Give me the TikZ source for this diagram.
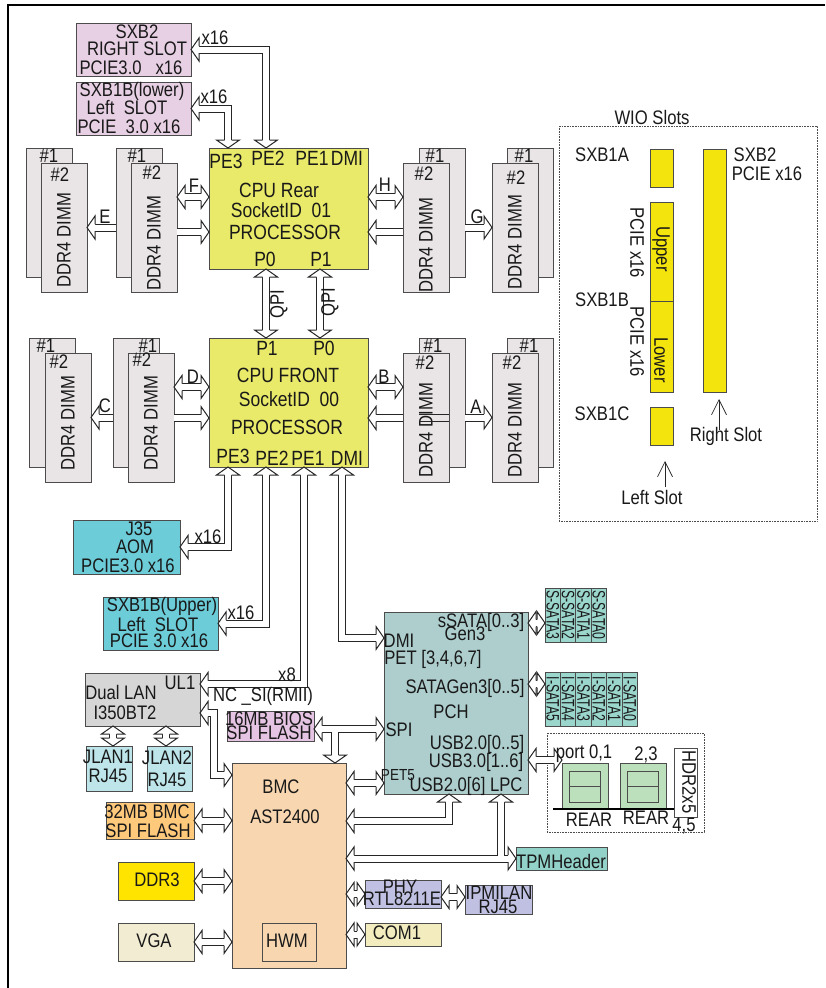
\documentclass[tikz,border=0pt]{standalone}
\usepackage{fontspec}
\setmainfont[FakeStretch=0.85]{Liberation Sans}
\newfontfamily\cellfont[FakeStretch=0.68]{Liberation Sans}
\usetikzlibrary{arrows.meta}

\definecolor{pinkbox}{HTML}{E8D0E4}
\definecolor{cpuyellow}{HTML}{E9E96A}
\definecolor{dimmgray}{HTML}{E9E5E7}
\definecolor{aomblue}{HTML}{6CCCD8}
\definecolor{langray}{HTML}{D6D6D6}
\definecolor{jlanblue}{HTML}{BEE6EA}
\definecolor{biospink}{HTML}{E4C4E2}
\definecolor{bmcpeach}{HTML}{F8D7B0}
\definecolor{flashorange}{HTML}{FFC97C}
\definecolor{ddryellow}{HTML}{FFE400}
\definecolor{vgacream}{HTML}{F2ECD2}
\definecolor{pchteal}{HTML}{AECECE}
\definecolor{sataTeal}{HTML}{9BD6CC}
\definecolor{tpmteal}{HTML}{92D2C8}
\definecolor{phyblue}{HTML}{C0C0E2}
\definecolor{comcream}{HTML}{F2ECBE}
\definecolor{usbgreen}{HTML}{BCE0BC}
\definecolor{slotyellow}{HTML}{F4E40E}

% hollow head of a bus, open towards the two shaft lines
\pgfdeclarearrow{
  name=Bus,
  cache=false,
  setup code={
    \pgfarrowssettipend{8pt}
    \pgfarrowssetlineend{0.3pt}
    \pgfarrowssetbackend{0pt}
    \pgfarrowssetvisualbackend{0pt}
  },
  drawing code={
    \pgfsetinnerlinewidth{0pt}
    \pgfsetlinewidth{1pt}
    \pgfsetcolor{black!85}
    \pgfsetfillcolor{white}
    \pgfpathmoveto{\pgfqpoint{0pt}{3.5pt}}
    \pgfpathlineto{\pgfqpoint{0pt}{11.5pt}}
    \pgfpathlineto{\pgfqpoint{8pt}{0pt}}
    \pgfpathlineto{\pgfqpoint{0pt}{-11.5pt}}
    \pgfpathlineto{\pgfqpoint{0pt}{-3.5pt}}
    \pgfusepathqfillstroke
  }
}

\tikzset{
  box/.style={draw=black!70,line width=0.8pt,inner sep=0pt,outer sep=0pt},
  bus/.style={draw=black!85,double=white,double distance=6pt,line width=1pt,>=Bus},
  lbl/.style={inner sep=0pt,font=\fontsize{19.6}{19.6}\selectfont,text=black!90},
  cpulbl/.style={lbl,font=\fontsize{20.6}{20.6}\selectfont},
  smalllbl/.style={lbl,font=\fontsize{16}{16}\selectfont},
  cell/.style={box,fill=sataTeal,rotate=-90,font=\cellfont\fontsize{18}{18}\selectfont,text=black!90},
  groupbox/.style={draw=black!70,densely dotted,line width=0.6pt},
  vee/.style={draw=black!85,line width=0.7pt,-{Straight Barb[length=15pt,width=15pt]}}
}

\begin{document}
\begin{tikzpicture}[x=1pt,y=-1pt]
\useasboundingbox (0,0) rectangle (825,988);
\draw[line width=2.5pt] (8,988) -- (8,5) -- (825,5);

% dotted groups
\draw[groupbox] (559,126) rectangle (817,521);
\draw[groupbox] (547,733) rectangle (704,832);

% the boxes: name, corners, colour
\foreach \nm/\xa/\ya/\xb/\yb/\col in {
  sxbtwo/76/23/191/76/pinkbox, sxblower/76/82/191/135/pinkbox,
  cpurear/209/148/368/269/cpuyellow, cpufront/209/338/368/467/cpuyellow,
  aom/73/520/180/574/aomblue, sxbupper/103/597/218/650/aomblue,
  duallan/85/673/200/726/langray, jlanone/86/746/132/791/jlanblue, jlantwo/147/746/192/791/jlanblue,
  bios/227/711/314/741/biospink, bmc/232/763/346/968/bmcpeach, hwm/262/923/316/961/bmcpeach,
  bmcflash/106/802/194/839/flashorange, ddrthree/118/862/194/900/ddryellow, vga/118/923/194/961/vgacream,
  pch/384/612/528/794/pchteal, tpm/516/847/607/870/tpmteal,
  phy/365/880/441/908/phyblue, ipmi/465/885/532/914/phyblue, comone/365/923/441/946/comcream,
  usba/562/763/608/809/usbgreen, usbb/620/763/666/809/usbgreen,
  usbaport/569/771/600/802/usbgreen, usbbport/627/771/658/802/usbgreen,
  hdr/674/748/697/817/white,
  slota/650/149/673/187/slotyellow, slotupper/650/202/673/301/slotyellow, slotlower/650/301/673/392/slotyellow,
  slotc/650/407/673/445/slotyellow, slotright/703/149/726/392/slotyellow}
  \node[box,fill=\col,minimum width={\xb-\xa},minimum height={\yb-\ya}] (\nm) at ({(\xa+\xb)/2},{(\ya+\yb)/2}) {};
\draw[box] (usbaport.west) -- (usbaport.east);
\draw[box] (usbbport.west) -- (usbbport.east);
\draw[line width=1.5pt] (553,809) -- (hdr.west |- usba.south);

% memory: name, left of #1, left of #2, top, x of #1, x of #2, y of #2, offset of the text
\foreach \nm/\xa/\xb/\ya/\la/\lb/\ly/\dy in {
  E/26/41/148/49/60/175/77, F/116/131/148/137/152/173/80,
  H/419/403/148/435/424/174/82, G/507/492/148/524/516/178/79,
  C/29/45/338/46/59/362/70, D/113/128/338/148/142/360/70,
  B/419/403/338/433/425/363/77, A/507/492/338/529/512/363/77} {
  \node[box,fill=dimmgray,minimum width=46,minimum height=129] (\nm1) at (\xa+23,\ya+64.5) {};
  \node[lbl] (\nm one) at (\la,\ya+8) {\#1};
  \node[box,fill=dimmgray,minimum width=46,minimum height=129] (\nm2) at (\xb+23,\ya+79.5) {};
  \node[lbl] (\nm two) at (\lb,\ly) {\#2};
  \node[lbl,rotate=90] (\nm text) at (\xb+23,\ya+15+\dy) {DDR4 DIMM};
}

% SATA connectors
\foreach \t [count=\i] in {3,2,1,0}
  \node[cell,minimum width=54,minimum height=15.4] (ssata\i) at (545+15.4*\i-7.7,615) {S-SATA\t};
\foreach \t [count=\i] in {5,4,3,2,1,0}
  \node[cell,minimum width=54,minimum height=15.4] (sata\i) at (545+15.4*\i-7.7,699) {I-SATA\t};

% memory buses
\foreach \a/\b/\y in {F2.east/cpurear.west/197, cpurear.east/H2.west/197,
  D2.east/cpufront.west/387, cpufront.east/B2.west/387,
  pch.east/ssata1.south/623, pch.east/sata1.south/684, pch.east/usba.west/760}
  \draw[bus,<->] (\a |- 0,\y) -- (\b |- 0,\y);
\foreach \a/\b/\y in {F2.east/cpurear.west/232, H2.west/cpurear.east/232,
  D2.east/cpufront.west/418, B2.west/cpufront.east/418,
  F1.west/E2.east/227.5, D1.west/C2.east/417.5, H1.east/G2.west/227.5, B1.east/A2.west/417.5}
  \draw[bus,->] (\a |- 0,\y) -- (\b |- 0,\y);
\foreach \y in {414.5,421.5}
  \draw[draw=black!85,line width=1pt] (B2.east |- 0,\y) -- (B1.west |- 0,\y);

% QPI
\foreach \x in {266,320}
  \draw[bus,<->] (\x,0 |- cpurear.south) -- (\x,0 |- cpufront.north);

% PCIE
\draw[bus,<->] (266,0 |- cpurear.north) |- (sxbtwo.east);
\draw[bus,<->] (228,0 |- cpurear.north) |- (sxblower.east);
\draw[bus,<->] (228,0 |- cpufront.south) |- (aom.east);
\draw[bus,<->] (266,0 |- cpufront.south) |- (sxbupper.east);
\draw[bus,<->] (304,0 |- cpufront.south) |- (duallan.east |- 0,684);
\draw[bus,<->] (342,0 |- cpufront.south) |- (pch.west |- 0,638);

% LAN
\draw[bus,<->] (duallan.east |- 0,713) -- (214,713) |- (bmc.west |- 0,775);
\draw[bus,<->] (113,0 |- duallan.south) -- (113,0 |- jlanone.north);
\draw[bus,<->] (166,0 |- duallan.south) -- (166,0 |- jlantwo.north);

% BMC neighbours
\foreach \a in {bmcflash,ddrthree,vga}
  \draw[bus,<->] (\a.east) -- (\a.east -| bmc.west);
\foreach \a in {phy,comone}
  \draw[bus,<->] (\a.west) -- (\a.west -| bmc.east);
\draw[bus,<->] (phy.east |- 0,897) -- (ipmi.west |- 0,897);
\draw[bus,<->] (bmc.east |- 0,783) -- (pch.west |- 0,783);
\draw[bus,<->] (bmc.east |- 0,821) -| (449,0 |- pch.south);

% SPI, one branch goes down to the BMC
\coordinate (spijoin) at (335,729);
\draw[bus,->] (spijoin) -- (spijoin |- bmc.north);
\draw[bus,<->] (bios.east |- spijoin) -- (pch.west |- spijoin);
\draw[white,line width=6pt] (335,728) -- (335,737);

% LPC and TPM
\coordinate (tpmjoin) at (501,858.5);
\draw[bus,->] (tpmjoin) -- (tpmjoin |- pch.south);
\draw[bus,<->] (bmc.east |- tpmjoin) -- (tpm.west |- tpmjoin);
\draw[white,line width=6pt] (501,858) -- (501,849);

% pointers to the slots
\coordinate (rightpoint) at (719,399);
\coordinate (rightfoot) at (719,430);
\coordinate (leftpoint) at (665,461);
\coordinate (leftfoot) at (665,487);
\draw[vee] (rightfoot) -- (rightpoint);
\draw[vee] (leftfoot) -- (leftpoint);

% all the texts
\foreach \x/\y/\t [count=\i] in {
  137/32/SXB2, 137/49/RIGHT SLOT, 131/68/PCIE3.0\ \ \ x16,
  132/91/SXB1B(lower), 127/108/Left\ \ SLOT, 129/127/PCIE\ \ 3.0\ x16,
  215/38/x16, 214/97/x16, 208/537/x16, 241/613/x16, 287/675/x8,
  139/529/J35, 135/547/AOM, 128/566/PCIE3.0 x16,
  162/606/SXB1B(Upper), 158/624/Left\ \ SLOT, 159/641/PCIE 3.0 x16,
  194/186/F, 105/217/E, 385/185/H, 477/217/G, 193/377/D, 105/406/C, 384/377/B, 476/407/A,
  180/683/UL1, 121/692/Dual LAN, 125/713/I350BT2,
  108/757/JLAN1, 108/776/RJ45, 167/758/JLAN2, 167/780/RJ45,
  263/696/NC \_SI(RMII), 269/719/16MB BIOS, 269/733/SPI FLASH,
  147/812/32MB BMC, 148/831/SPI FLASH, 157/880/DDR3, 154/941/VGA,
  287/941/HWM, 281/787/BMC, 285/817/AST2400,
  481/622/sSATA[0..3], 465/634/Gen3, 399/641/DMI, 433/659/{PET [3,4,6,7]},
  465/688/SATAGen3[0..5], 451/712/PCH, 399/730/SPI, 477/744/USB2.0[0..5],
  476/762/USB3.0[1..6], 466/786/USB2.0[6] LPC,
  561/861/TPMHeader, 400/887/PHY, 402/899/RTL8211E, 499/893/IPMILAN, 498/907/RJ45, 397/933/COM1,
  584/754/{port 0,1}, 646/755/{2,3}, 589/820/REAR, 646/818/REAR, 684/826/{4,5},
  652/117/WIO Slots, 602/155/SXB1A, 755/155/SXB2, 767/174/PCIE x16, 602/300/SXB1B, 602/414/SXB1C,
  726/436/Right Slot, 652/497/Left Slot}
  \node[lbl] (txt\i) at (\x,\y) {\t};

\foreach \x/\y/\t [count=\i] in {
  226/161/PE3, 268/158/PE2, 312/158/PE1, 347/158/DMI, 279/190/CPU Rear, 281/210/SocketID\ \ 01,
  285/232/PROCESSOR, 265/259/P0, 321/259/P1,
  267/348/P1, 324/348/P0, 288/375/CPU FRONT, 289/399/SocketID\ \ 00, 287/427/PROCESSOR,
  233/456/PE3, 272/458/PE2, 308/458/PE1, 347/458/DMI}
  \node[cpulbl] (cputxt\i) at (\x,\y) {\t};

\node[smalllbl] (petfive) at (398,775) {PET5};

\foreach \x/\y/\t/\r [count=\i] in {
  279/304/QPI/90, 330/302/QPI/90, 689/782/HDR2x5/-90, 637/243/PCIE x16/-90, 637/342/PCIE x16/-90,
  661/249/Upper/-90, 661/360/Lower/-90}
  \node[lbl,rotate=\r] (rottxt\i) at (\x,\y) {\t};
\end{tikzpicture}
\end{document}
